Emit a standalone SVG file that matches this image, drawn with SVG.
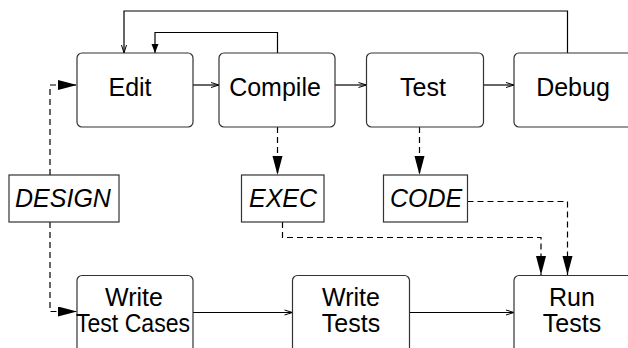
<svg xmlns="http://www.w3.org/2000/svg" width="628" height="348" viewBox="0 0 628 348">
<style>
.box{fill:#fff;stroke:#333;stroke-width:1.2}
.t{font-family:"Liberation Sans",Arial,sans-serif;font-size:25px;fill:#000;text-anchor:middle}
.it{font-style:italic}
.c{fill:none;stroke:#000;stroke-width:1.2}
.d{fill:none;stroke:#000;stroke-width:1.2;stroke-dasharray:6,4}
</style>
<defs>
<marker id="sa" markerWidth="10" markerHeight="8" refX="9" refY="4" orient="auto" markerUnits="userSpaceOnUse">
<path d="M1,1.5 L9,4 L1,6.5" fill="none" stroke="#000" stroke-width="1"/>
</marker>
<marker id="ma" markerWidth="10" markerHeight="8" refX="9" refY="3.5" orient="auto" markerUnits="userSpaceOnUse">
<path d="M0,0 L9,3.5 L0,7 Z" fill="#000"/>
</marker>
<marker id="la" markerWidth="20" markerHeight="12" refX="19" refY="5" orient="auto" markerUnits="userSpaceOnUse">
<path d="M0,0 L19,5 L0,10 Z" fill="#000"/>
</marker>
</defs>
<g id="connectors">
<path class="c" d="M193,85 H219" marker-end="url(#sa)"/>
<path class="c" d="M335,85 H366.5" marker-end="url(#sa)"/>
<path class="c" d="M483.5,85 H514" marker-end="url(#sa)"/>
<path class="c" d="M567.5,53 V11 H124 V53" marker-end="url(#sa)"/>
<path class="c" d="M277.5,53 V32.5 H155 V53" marker-end="url(#ma)"/>
<path class="c" d="M193,312.5 H292.5" marker-end="url(#sa)"/>
<path class="c" d="M409.5,312.5 H514" marker-end="url(#sa)"/>
<path class="d" d="M50,175 V85 H77" marker-end="url(#la)"/>
<path class="d" d="M50,222 V311.5 H77" marker-end="url(#la)"/>
<path class="d" d="M277.5,127 V175" marker-end="url(#la)"/>
<path class="d" d="M419.5,127 V175" marker-end="url(#la)"/>
<path class="d" d="M282.5,222 V237.5 H541 V275" marker-end="url(#la)"/>
<path class="d" d="M467.5,201.5 H567.5 V275" marker-end="url(#la)"/>
</g>
<g id="edit"><rect class="box" x="77" y="53" width="116" height="74" rx="5"/><text class="t" x="130" y="96">Edit</text></g>
<g id="compile"><rect class="box" x="219" y="53" width="116" height="74" rx="5"/><text class="t" x="275" y="96">Compile</text></g>
<g id="test"><rect class="box" x="366.5" y="53" width="117" height="74" rx="5"/><text class="t" x="423" y="96">Test</text></g>
<g id="debug"><rect class="box" x="514" y="53" width="120" height="74" rx="5"/><text class="t" x="573" y="96">Debug</text></g>
<g id="design"><rect class="box" x="9" y="175" width="110" height="47"/><text class="t it" x="63" y="207">DESIGN</text></g>
<g id="exec"><rect class="box" x="241.5" y="175" width="82.5" height="47"/><text class="t it" x="283" y="207">EXEC</text></g>
<g id="code"><rect class="box" x="383.5" y="175" width="84" height="47"/><text class="t it" x="426" y="207">CODE</text></g>
<g id="write-test-cases"><rect class="box" x="77" y="275.5" width="116" height="80" rx="5"/><text class="t" x="134" y="306">Write</text><text class="t" x="133" y="332" textLength="114" lengthAdjust="spacingAndGlyphs">Test Cases</text></g>
<g id="write-tests"><rect class="box" x="292.5" y="275.5" width="117" height="80" rx="5"/><text class="t" x="351" y="306">Write</text><text class="t" x="351" y="332">Tests</text></g>
<g id="run-tests"><rect class="box" x="514" y="275.5" width="120" height="80" rx="5"/><text class="t" x="572" y="306">Run</text><text class="t" x="572" y="332">Tests</text></g>
</svg>
